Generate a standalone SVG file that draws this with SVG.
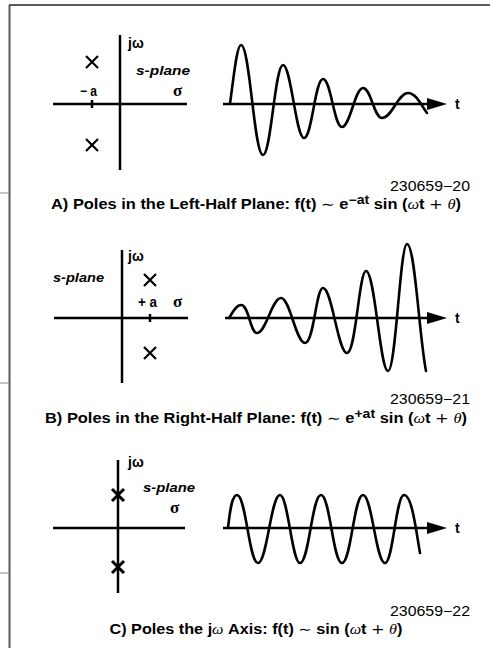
<svg xmlns="http://www.w3.org/2000/svg" width="490" height="648" viewBox="0 0 490 648">
<defs>
<style>
.frame{stroke:#5a5a5a;stroke-width:2;fill:none}
.tick{stroke:#888;stroke-width:1}
.ax{stroke:#000;stroke-width:2.5;fill:none}
.wave{stroke:#000;stroke-width:2.6;fill:none;stroke-linejoin:round;stroke-linecap:round}
.pole{stroke:#000;stroke-width:2.2;fill:none}
.pole2{stroke:#000;stroke-width:3;fill:none}
.head{fill:#000}
.cap{font-family:"Liberation Sans",Arial,sans-serif;font-weight:bold;font-size:14px;fill:#000}
.num{font-family:"Liberation Sans",Arial,sans-serif;font-size:14px;fill:#000}
.gr{font-family:"Liberation Serif","Times New Roman",serif;font-style:italic;font-weight:normal}
.op{font-family:"DejaVu Sans","Liberation Sans",sans-serif;font-weight:normal}
.lbl{font-family:"Liberation Sans",Arial,sans-serif;font-weight:bold;font-size:14px;fill:#000}
.sp{font-family:"Liberation Sans",Arial,sans-serif;font-weight:bold;font-style:italic;font-size:13px;fill:#000}
.sig{font-family:"Liberation Serif","Times New Roman",serif;font-weight:bold;font-size:17px;fill:#000}
.t{font-family:"Liberation Sans",Arial,sans-serif;font-weight:bold;font-size:14px;fill:#000}
</style>
</defs>
<g id="frame">
<path class="frame" d="M9 5H490M9.5 5V648"/>
<path class="tick" d="M0 193H9M0 383H9M0 573H9"/>
</g>

<g id="panelA">
<g id="splaneA">
<line class="ax" x1="120" y1="35" x2="120" y2="170"/>
<line class="ax" x1="53" y1="104" x2="187" y2="104"/>
<line class="ax" x1="92" y1="100" x2="92" y2="108"/>
<path class="pole" d="M86 56L98 68M98 56L86 68M86 139L98 151M98 139L86 151"/>
<text class="lbl" x="128" y="48">jω</text>
<text class="sp" x="136" y="75" textLength="54" lengthAdjust="spacingAndGlyphs">s-plane</text>
<text class="lbl" x="80" y="96" textLength="17" lengthAdjust="spacingAndGlyphs">− a</text>
<text class="sig" x="173" y="96">σ</text>
</g>
<g id="waveA">
<line class="ax" x1="223" y1="104" x2="430" y2="104"/>
<polygon class="head" points="427,98 447,104 427,110"/>
<text class="t" x="455" y="109">t</text>
<path class="wave" d="M230 104C234 74 237 45 241 45C250 45 254 155 263 155C271 155 275 65 283 65C291 65 296 138 304 138C312 138 315 79 323 79C331 79 334 127 342 127C350 127 355 88 363 88C371 88 374 118 382 118C392 118 398 93 408 93C416 93 421 105 427 113"/>
</g>
<text class="num" x="470" y="191" text-anchor="end" textLength="80" lengthAdjust="spacingAndGlyphs">230659−20</text>
<text class="cap" x="256" y="209" text-anchor="middle" textLength="410" lengthAdjust="spacingAndGlyphs">A) Poles in the Left-Half Plane: f(t) <tspan class="op">∼</tspan> e<tspan font-size="12" dy="-5">−at</tspan><tspan dy="5"> sin (</tspan><tspan class="gr">ω</tspan>t <tspan class="op">+</tspan> <tspan class="gr">θ</tspan>)</text>
</g>

<g id="panelB">
<g id="splaneB">
<line class="ax" x1="122" y1="250" x2="122" y2="383"/>
<line class="ax" x1="54" y1="318" x2="188" y2="318"/>
<line class="ax" x1="150" y1="314" x2="150" y2="322"/>
<path class="pole" d="M144 274L156 286M156 274L144 286M144 347L156 359M156 347L144 359"/>
<text class="lbl" x="128" y="261">jω</text>
<text class="sp" x="53" y="282" textLength="51" lengthAdjust="spacingAndGlyphs">s-plane</text>
<text class="lbl" x="138" y="307" textLength="19" lengthAdjust="spacingAndGlyphs">+ a</text>
<text class="sig" x="173" y="307">σ</text>
</g>
<g id="waveB">
<line class="ax" x1="225" y1="318" x2="430" y2="318"/>
<polygon class="head" points="427,312 447,318 427,324"/>
<text class="t" x="455" y="323">t</text>
<path class="wave" d="M229 318C233 312 236 305 241 305C249 305 250 333 257 333C266 333 272 298 281 298C290 298 296 343 305 343C314 343 316 288 323 288C332 288 338 353 347 353C356 353 359 271 366 271C375 271 380 371 388 371C396 371 400 244 407 244C415 244 419 335 426 371"/>
</g>
<text class="num" x="470" y="404" text-anchor="end" textLength="80" lengthAdjust="spacingAndGlyphs">230659−21</text>
<text class="cap" x="256" y="423" text-anchor="middle" textLength="422" lengthAdjust="spacingAndGlyphs">B) Poles in the Right-Half Plane: f(t) <tspan class="op">∼</tspan> e<tspan font-size="12" dy="-5">+at</tspan><tspan dy="5"> sin (</tspan><tspan class="gr">ω</tspan>t <tspan class="op">+</tspan> <tspan class="gr">θ</tspan>)</text>
</g>

<g id="panelC">
<g id="splaneC">
<line class="ax" x1="118" y1="460" x2="118" y2="593"/>
<line class="ax" x1="53" y1="528" x2="185" y2="528"/>
<path class="pole2" d="M112 489L124 501M124 489L112 501M112 561L124 573M124 561L112 573"/>
<text class="lbl" x="128" y="467">jω</text>
<text class="sp" x="143" y="492" textLength="52" lengthAdjust="spacingAndGlyphs">s-plane</text>
<text class="sig" x="170" y="513">σ</text>
</g>
<g id="waveC">
<line class="ax" x1="223" y1="528" x2="430" y2="528"/>
<polygon class="head" points="427,522 447,528 427,534"/>
<text class="t" x="455" y="533">t</text>
<path class="wave" d="M228 528C230 510 232 495 237 495C246 495 249 563 258 563C267 563 271 495 280 495C288 495 292 563 300 563C309 563 312 495 321 495C330 495 333 563 342 563C351 563 354 495 363 495C372 495 376 563 385 563C393 563 396 495 404 495C412 495 416 530 420 553"/>
</g>
<text class="num" x="470" y="616" text-anchor="end" textLength="80" lengthAdjust="spacingAndGlyphs">230659−22</text>
<text class="cap" x="256" y="634" text-anchor="middle" textLength="293" lengthAdjust="spacingAndGlyphs">C) Poles the j<tspan class="gr">ω</tspan> Axis: f(t) <tspan class="op">∼</tspan> sin (<tspan class="gr">ω</tspan>t <tspan class="op">+</tspan> <tspan class="gr">θ</tspan>)</text>
</g>
</svg>
